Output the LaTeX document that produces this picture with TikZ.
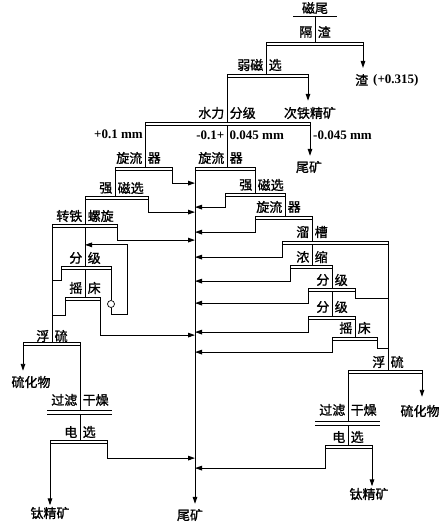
\documentclass[tikz,border=0pt]{standalone}
\usepackage{fontspec}
\setmainfont{Liberation Serif}
\newfontfamily\cjk[FakeBold=1.2]{Noto Sans CJK SC}
\usetikzlibrary{arrows.meta}
\tikzset{
  flow/.style={line width=0.95pt},
  arr/.style={flow,-{Triangle[length=7pt,width=4.6pt]}},
  barst/.style={line width=0.8pt},
  lab/.style={font=\cjk\fontsize{13}{13}\selectfont,inner sep=0pt},
  num/.style={font=\rmfamily\bfseries\fontsize{13}{13}\selectfont,inner sep=0pt},
}
\newcommand\pbar[5]{%
  \draw[barst] (#2,#4-1.8) rectangle (#3,#4+1.8);
  \coordinate (#1-in) at (#5,#4-1.8);
  \coordinate (#1-l) at (#2,#4+1.8);
  \coordinate (#1-r) at (#3,#4+1.8);
  \coordinate (#1-m) at (#5,#4+1.8);}
\newcommand\fbar[5]{%
  \draw[barst] (#2,#4-2) -- (#3,#4-2) (#2,#4+2) -- (#3,#4+2);
  \coordinate (#1-in) at (#5,#4-2);
  \coordinate (#1-l) at (#2,#4+2);
  \coordinate (#1-r) at (#3,#4+2);
  \coordinate (#1-m) at (#5,#4+2);}
\newcommand\splitlab[5]{%
  \node[lab,anchor=east] (#1a) at (#2-2.5,#3) {#4};
  \node[lab,anchor=west] (#1b) at (#2+2.5,#3) {#5};}
\begin{document}
\begin{tikzpicture}[x=1pt,y=-1pt]
\useasboundingbox (0,0) rectangle (445,532);
% ---- labels ----
\node[lab] (cwt) at (315,8) {磁尾};
\splitlab{L1}{315}{32}{隔}{渣}
\node[lab,anchor=west] (zha) at (355,80) {渣};
\node[num,anchor=west] (zhb) at (373,80) {(+0.315)};
\splitlab{L2}{266}{65}{弱磁}{选}
\node[lab] (cjk) at (310,113) {次铁精矿};
\splitlab{L3}{227}{113}{水力}{分级}
\node[num,anchor=east] (n1) at (143,134) {+0.1 mm};
\node[num,anchor=east] (n2a) at (224.5,135) {-0.1+};
\node[num,anchor=west] (n2b) at (229.5,135) {0.045 mm};
\node[num,anchor=west] (n3) at (313,135) {-0.045 mm};
\node[lab] (wk1) at (309,167) {尾矿};
\splitlab{L4}{145}{158}{旋流}{器}
\splitlab{L5}{227}{158}{旋流}{器}
\splitlab{L6}{255}{185}{强}{磁选}
\splitlab{L7}{285}{207}{旋流}{器}
\splitlab{L8}{312}{232}{溜}{槽}
\splitlab{L9}{312}{257}{浓}{缩}
\splitlab{L10}{332}{280}{分}{级}
\splitlab{L11}{332}{307}{分}{级}
\splitlab{L12}{355}{328}{摇}{床}
\splitlab{L13}{388}{362}{浮}{硫}
\node[lab] (slr) at (420,411) {硫化物};
\splitlab{L14}{348}{410}{过滤}{干燥}
\splitlab{L15}{348}{437}{电}{选}
\node[lab] (tjr) at (369,494) {钛精矿};
\splitlab{L16}{115}{188}{强}{磁选}
\splitlab{L17}{85}{216}{转铁}{螺旋}
\splitlab{L18}{85}{258}{分}{级}
\splitlab{L19}{85}{288}{摇}{床}
\splitlab{L20}{52}{336}{浮}{硫}
\node[lab] (sll) at (31,382) {硫化物};
\splitlab{L21}{80}{400}{过滤}{干燥}
\splitlab{L22}{80}{432}{电}{选}
\node[lab] (tjl) at (50,513) {钛精矿};
\node[lab] (wk2) at (190,515) {尾矿};
% ---- bars ----
\draw[barst] (293,16) -- (337,16);
\coordinate (cw) at (315,16);
\pbar{gz}{266}{363}{44}{315}
\pbar{rc}{227}{308}{76}{266}
\pbar{sl}{145}{310}{124}{227}
\pbar{xa}{115}{172}{169}{145}
\pbar{xb}{195}{255}{169}{227}
\pbar{qa}{85}{148}{198}{115}
\pbar{qb}{225}{285}{195}{255}
\pbar{xc}{255}{312}{218}{285}
\pbar{lc}{282}{388}{243}{312}
\pbar{ns}{290}{332}{267}{312}
\pbar{fa}{308}{355}{290}{332}
\pbar{fb}{308}{355}{318}{332}
\pbar{ya}{332}{377}{339}{355}
\pbar{fr}{348}{422}{372}{388}
\fbar{gr}{315}{380}{423}{348}
\pbar{dr}{325}{372}{447}{348}
\pbar{zt}{52}{117}{226}{85}
\pbar{fl}{61}{111}{268}{85}
\pbar{yl}{65}{100}{299}{85}
\pbar{fL}{23}{80}{344}{52}
\fbar{gl}{47}{112}{412}{80}
\pbar{dl}{50}{107}{442}{80}
\node[draw,circle,line width=0.7pt,minimum size=7pt,inner sep=0pt] (pump) at (111,304) {};
% ---- main line ----
\draw[flow] (cw) -- (gz-in);
\draw[arr,shorten >=6pt] (gz-r) -- (gz-r |- zha.north);
\draw[flow] (gz-l) -- (rc-in);
\draw[arr,shorten >=6pt] (rc-r) -- (rc-r |- cjk.north);
\draw[flow] (rc-l) -- (sl-in);
\draw[arr,shorten >=5pt] (sl-r) -- (sl-r |- wk1.north);
\draw[flow] (sl-l) -- (xa-in);
\draw[flow] (sl-m) -- (xb-in);
% collector
\coordinate (col) at (xb-l);
\draw[arr,shorten >=5pt] (col) -- (col |- wk2.north);
% middle/right chain
\draw[flow] (xb-r) -- (qb-in);
\draw[flow] (qb-r) -- (xc-in);
\draw[flow] (xc-r) -- (lc-in);
\draw[flow] (lc-m) -- (ns-in);
\draw[flow] (ns-r) -- (fa-in);
\draw[flow] (fa-m) -- (fb-in);
\draw[flow] (fb-r) -- (ya-in);
\draw[flow] (lc-r) -- (fr-in);
\draw[flow] (fa-r) -- ++(0,6.3) coordinate (t1) -- (t1 -| lc-r);
\draw[flow] (ya-r) -- ++(0,7.3) coordinate (t2) -- (t2 -| lc-r);
\draw[arr,shorten >=8pt] (fr-r) -- (fr-r |- slr.north);
\draw[flow] (fr-l) -- (gr-in);
\draw[flow] (gr-m) -- (dr-in);
\draw[arr,shorten >=1.5pt] (dr-r) -- (dr-r |- tjr.north);
% arrows into collector from the right
\draw[arr] (qb-l) -- ++(0,10.3) coordinate (r1) -- (r1 -| col);
\draw[arr] (xc-l) -- ++(0,12.3) coordinate (r2) -- (r2 -| col);
\draw[arr] (lc-l) -- ++(0,12.3) coordinate (r3) -- (r3 -| col);
\draw[arr] (ns-l) -- ++(0,12.3) coordinate (r4) -- (r4 -| col);
\draw[arr] (fa-l) -- ++(0,11.3) coordinate (r5) -- (r5 -| col);
\draw[arr] (fb-l) -- ++(0,12.3) coordinate (r6) -- (r6 -| col);
\draw[arr] (ya-l) -- ++(0,11.3) coordinate (r7) -- (r7 -| col);
\draw[arr] (dr-l) -- ++(0,19.3) coordinate (r8) -- (r8 -| col);
% left chain
\draw[flow] (xa-l) -- (qa-in);
\draw[flow] (qa-l) -- (zt-in);
\draw[flow] (zt-m) -- (fl-in);
\draw[flow] (fl-m) -- (yl-in);
\draw[flow] (zt-l) -- (fL-in);
\draw[flow] (fl-l) -- ++(0,10.3) coordinate (u1) -- (u1 -| zt-l);
\draw[flow] (yl-l) -- ++(0,14.3) coordinate (u2) -- (u2 -| zt-l);
\draw[flow] (fl-r) -- (pump.north);
\draw[flow] (pump.south) -- ++(0,7) coordinate (p1) -- ++(16,0) coordinate (p2);
\draw[arr] (p2) -- ++(0,-70) coordinate (p3) -- (p3 -| fl-in);
\draw[arr,shorten >=5pt] (fL-l) -- (fL-l |- sll.north);
\draw[flow] (fL-r) -- (gl-in);
\draw[flow] (gl-m) -- (dl-in);
\draw[arr,shorten >=1.5pt] (dl-l) -- (dl-l |- tjl.north);
% arrows into collector from the left
\draw[arr] (xa-r) -- ++(0,12.3) coordinate (s1) -- (s1 -| col);
\draw[arr] (qa-r) -- ++(0,12.3) coordinate (s2) -- (s2 -| col);
\draw[arr] (zt-r) -- ++(0,12.3) coordinate (s3) -- (s3 -| col);
\draw[arr] (yl-r) -- ++(0,34.3) coordinate (s4) -- (s4 -| col);
\draw[arr] (dl-r) -- ++(0,14.3) coordinate (s5) -- (s5 -| col);
\end{tikzpicture}
\end{document}
